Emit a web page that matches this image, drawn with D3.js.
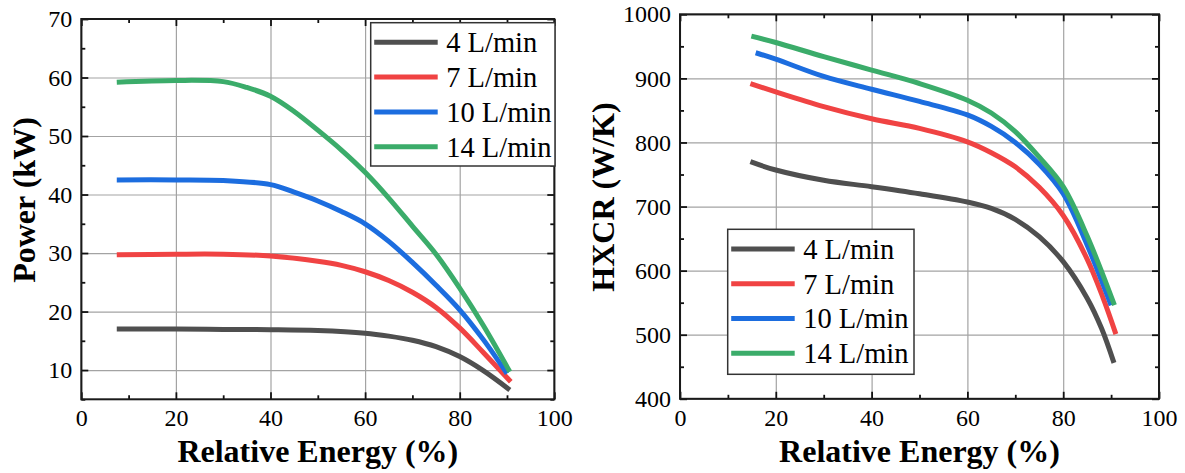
<!DOCTYPE html>
<html>
<head>
<meta charset="utf-8">
<script src="https://cdn.jsdelivr.net/npm/d3@7"></script>
<style>
  body { margin: 0; background: #fff; }
  svg { display: block; }
  svg text { font-family: "Liberation Serif", "Times New Roman", serif; }
</style>
</head>
<body>
<div id="chart"></div>
<script>
// series names and colours
const flows = ['4 L/min', '7 L/min', '10 L/min', '14 L/min'];
const lineColors = ['#4f4f4f', '#f04343', '#1c6ddf', '#3bac6a'];

// tick values
const xTicks = [0, 20, 40, 60, 80, 100];
const xMinorTicks = [10, 30, 50, 70, 90];
const powerTicks = [10, 20, 30, 40, 50, 60, 70];
const powerMinorTicks = [5, 15, 25, 35, 45, 55, 65];
const hxcrTicks = [400, 500, 600, 700, 800, 900, 1000];
const hxcrMinorTicks = [450, 550, 650, 750, 850, 950];

// Power (kW) vs relative energy (%)
const powerX4 = [7.5, 20, 30, 40, 50, 60, 65, 70, 75, 80, 85, 90.6];
const power4 = [17.0, 17.0, 16.95, 16.9, 16.75, 16.3, 15.8, 15.1, 14.0, 12.3, 9.9, 6.6];
const powerX7 = [7.5, 20, 30, 40, 50, 55, 60, 65, 70, 75, 80, 85, 90.8];
const power7 = [29.7, 29.8, 29.8, 29.5, 28.6, 27.9, 26.8, 25.3, 23.3, 20.7, 17.2, 13.0, 8.0];
const powerX10 = [7.5, 20, 30, 40, 45, 50, 55, 60, 65, 70, 75, 80, 85, 90.0];
const power10 = [42.5, 42.5, 42.4, 41.7, 40.4, 38.9, 37.1, 35.0, 32.0, 28.4, 24.5, 20.3, 15.2, 9.4];
const powerX14 = [7.5, 20, 30, 35, 40, 45, 50, 55, 60, 65, 70, 75, 80, 85, 90.6];
const power14 = [59.2, 59.5, 59.3, 58.3, 56.8, 54.2, 51.0, 47.6, 43.8, 39.4, 34.6, 29.8, 24.0, 17.6, 9.7];

// HXCR (W/K) vs relative energy (%)
const hxcrX4 = [14.7, 20, 30, 40, 50, 60, 65, 70, 75, 80, 85, 88, 90.6];
const hxcr4 = [770, 757, 741, 731, 720, 707, 697, 680, 653, 614, 557, 510, 456];
const hxcrX7 = [14.7, 20, 30, 40, 50, 60, 65, 70, 75, 80, 85, 88.3, 91.0];
const hxcr7 = [892, 879, 856, 837, 822, 801, 784, 762, 730, 686, 618, 558, 501];
const hxcrX10 = [15.8, 20, 30, 40, 50, 60, 65, 70, 75, 80, 85, 90.0];
const hxcr10 = [940, 930, 903, 883, 864, 843, 825, 800, 766, 720, 640, 546];
const hxcrX14 = [14.9, 20, 30, 40, 50, 60, 65, 70, 75, 80, 85, 90.7];
const hxcr14 = [966, 956, 934, 913, 892, 866, 846, 817, 777, 731, 654, 546];

const powerSeries = [
    d3.zip(powerX4, power4), d3.zip(powerX7, power7),
    d3.zip(powerX10, power10), d3.zip(powerX14, power14)
];
const hxcrSeries = [
    d3.zip(hxcrX4, hxcr4), d3.zip(hxcrX7, hxcr7),
    d3.zip(hxcrX10, hxcr10), d3.zip(hxcrX14, hxcr14)
];

const serif = '"Liberation Serif", "Times New Roman", serif';
const largura = 1185, altura = 473;
const svg = d3.select('#chart')
    .append('svg')
    .attr('width', largura)
    .attr('height', altura)
    .attr('viewBox', `0 0 ${largura} ${altura}`)
    .attr('font-family', serif);

const panels = [
    {
        left: 81.3, right: 554.3, top: 19, bottom: 399.3,
        yDomain: [5, 70], yTicks: powerTicks, yMinor: powerMinorTicks,
        title: 'Power (kW)', titleX: 35, titleY: 200,
        legend: { x: 370.7, y: 22.7, w: 184.3, h: 143.3 },
        series: powerSeries
    },
    {
        left: 680, right: 1159, top: 14.3, bottom: 398.8,
        yDomain: [400, 1000], yTicks: hxcrTicks, yMinor: hxcrMinorTicks,
        title: 'HXCR (W/K)', titleX: 614, titleY: 197,
        legend: { x: 727.7, y: 229.3, w: 186.3, h: 145 },
        series: hxcrSeries
    }
];

const drawPanel = (p) => {
    const x = d3.scaleLinear().domain([0, 100]).range([p.left, p.right]);
    const y = d3.scaleLinear().domain(p.yDomain).range([p.bottom, p.top]);
    const g = svg.append('g');
    const h = p.bottom - p.top, w = p.right - p.left;

    // grid
    g.append('g')
        .attr('class', 'grid')
        .attr('transform', `translate(0,${p.bottom})`)
        .call(d3.axisBottom(x).tickValues(xTicks).tickSize(-h).tickFormat(''));
    g.append('g')
        .attr('class', 'grid')
        .attr('transform', `translate(${p.left},0)`)
        .call(d3.axisLeft(y).tickValues(p.yTicks).tickSize(-w).tickFormat(''));
    g.selectAll('.grid .domain').remove();
    g.selectAll('.grid line').attr('stroke', '#a3a3a3').attr('stroke-width', 1.2);

    // curves
    const line = d3.line()
        .x(d => x(d[0]))
        .y(d => y(d[1]))
        .curve(d3.curveCatmullRom.alpha(0.5));
    g.append('g')
        .selectAll('path')
        .data(p.series)
        .enter()
        .append('path')
        .attr('d', line)
        .attr('fill', 'none')
        .attr('stroke', (d, i) => lineColors[i])
        .attr('stroke-width', 5);

    // axes, ticks pointing inwards on all four sides
    const axes = g.append('g').attr('class', 'axes');
    axes.append('g').attr('transform', `translate(0,${p.bottom})`)
        .call(d3.axisBottom(x).tickValues(xTicks).tickSize(-7).tickPadding(10).tickFormat(d3.format('d')));
    axes.append('g').attr('transform', `translate(0,${p.bottom})`)
        .call(d3.axisBottom(x).tickValues(xMinorTicks).tickSize(-4).tickFormat(''));
    axes.append('g').attr('transform', `translate(0,${p.top})`)
        .call(d3.axisTop(x).tickValues(xTicks).tickSize(-7).tickFormat(''));
    axes.append('g').attr('transform', `translate(0,${p.top})`)
        .call(d3.axisTop(x).tickValues(xMinorTicks).tickSize(-4).tickFormat(''));
    axes.append('g').attr('transform', `translate(${p.left},0)`)
        .call(d3.axisLeft(y).tickValues(p.yTicks).tickSize(-7).tickPadding(9).tickFormat(d3.format('d')));
    axes.append('g').attr('transform', `translate(${p.left},0)`)
        .call(d3.axisLeft(y).tickValues(p.yMinor).tickSize(-4).tickFormat(''));
    axes.append('g').attr('transform', `translate(${p.right},0)`)
        .call(d3.axisRight(y).tickValues(p.yTicks).tickSize(-7).tickFormat(''));
    axes.append('g').attr('transform', `translate(${p.right},0)`)
        .call(d3.axisRight(y).tickValues(p.yMinor).tickSize(-4).tickFormat(''));
    axes.selectAll('.domain').remove();
    axes.selectAll('g').attr('font-family', serif);
    axes.selectAll('line').attr('stroke', '#111').attr('stroke-width', 1.8);
    axes.selectAll('text')
        .attr('font-family', serif)
        .attr('font-size', 24)
        .attr('fill', '#000');

    // frame
    g.append('rect')
        .attr('x', p.left).attr('y', p.top)
        .attr('width', w).attr('height', h)
        .attr('fill', 'none')
        .attr('stroke', '#1a1a1a')
        .attr('stroke-width', 2);

    // titles
    g.append('text')
        .attr('x', (p.left + p.right) / 2)
        .attr('y', 462)
        .attr('text-anchor', 'middle')
        .attr('font-weight', 'bold')
        .attr('font-size', 32)
        .text('Relative Energy (%)');
    g.append('text')
        .attr('transform', `translate(${p.titleX},${p.titleY}) rotate(-90)`)
        .attr('text-anchor', 'middle')
        .attr('font-weight', 'bold')
        .attr('font-size', 32)
        .text(p.title);

    // legend
    const lg = g.append('g').attr('transform', `translate(${p.legend.x},${p.legend.y})`);
    lg.append('rect')
        .attr('width', p.legend.w).attr('height', p.legend.h)
        .attr('fill', '#fff')
        .attr('stroke', '#333')
        .attr('stroke-width', 1.5);
    const row = lg.selectAll('.row')
        .data(flows)
        .enter()
        .append('g')
        .attr('class', 'row')
        .attr('transform', (d, i) => `translate(0,${19.6 + i * 34.8})`);
    row.append('line')
        .attr('x1', 3.5).attr('x2', 67)
        .attr('stroke', (d, i) => lineColors[i])
        .attr('stroke-width', 5);
    row.append('text')
        .attr('x', 75.5)
        .attr('dy', '0.35em')
        .attr('font-size', 28.5)
        .text(d => d);
};

panels.forEach(drawPanel);
</script>
</body>
</html>
